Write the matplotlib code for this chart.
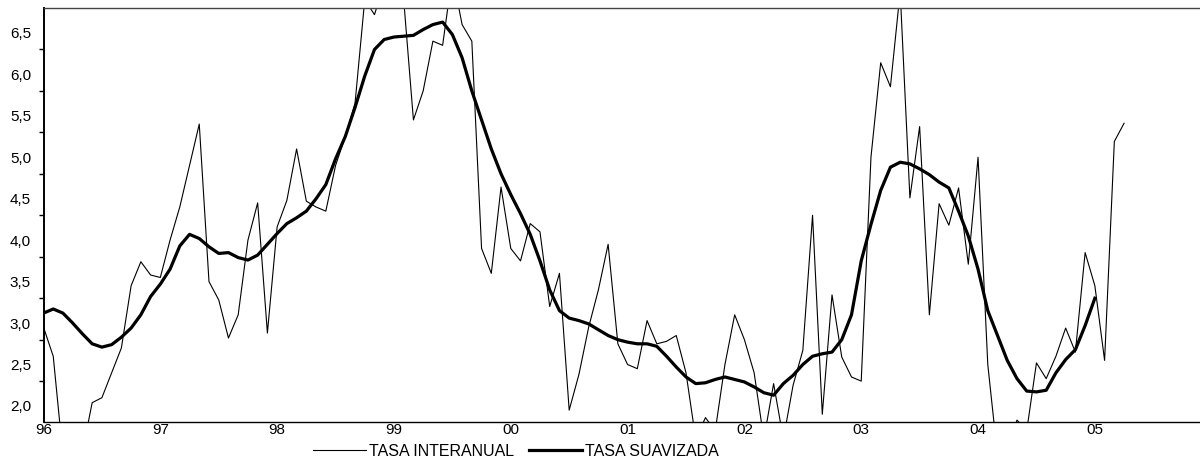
import numpy as np
import matplotlib
matplotlib.use('Agg')
import matplotlib.pyplot as plt
from matplotlib.ticker import FixedLocator, NullFormatter

plt.rcParams['font.family'] = ['Liberation Sans', 'DejaVu Sans']

# monthly series, Jan 1996 onwards
tasa_interanual = [
    2.95, 2.60, 1.40, 1.20, 1.45, 2.04, 2.10, 2.40, 2.70, 3.45, 3.74, 3.58,   # 96
    3.55, 4.00, 4.40, 4.90, 5.40, 3.50, 3.28, 2.82, 3.10, 4.00, 4.45, 2.88,   # 97
    4.16, 4.48, 5.10, 4.47, 4.40, 4.35, 4.90, 5.25, 5.65, 6.90, 6.72, 7.10,   # 98
    7.20, 6.90, 5.45, 5.80, 6.40, 6.35, 7.20, 6.60, 6.40, 3.90, 3.60, 4.64,   # 99
    3.90, 3.75, 4.20, 4.10, 3.20, 3.60, 1.95, 2.38, 2.95, 3.40, 3.95, 2.75,   # 00
    2.50, 2.45, 3.03, 2.75, 2.78, 2.85, 2.40, 1.60, 1.86, 1.70, 2.50, 3.10,   # 01
    2.80, 2.40, 1.60, 2.27, 1.60, 2.25, 2.67, 4.30, 1.90, 3.34, 2.59, 2.35,   # 02
    2.30, 5.00, 6.14, 5.85, 7.00, 4.51, 5.37, 3.10, 4.44, 4.18, 4.63, 3.71,   # 03
    5.00, 2.50, 1.40, 1.50, 1.83, 1.70, 2.52, 2.33, 2.60, 2.94, 2.65, 3.85,   # 04
    3.45, 2.55, 5.19, 5.41,                                                   # 05
]
tasa_suavizada = [
    3.12, 3.17, 3.12, 3.00, 2.87, 2.75, 2.71, 2.74, 2.83, 2.94, 3.10, 3.32,   # 96
    3.47, 3.65, 3.93, 4.07, 4.02, 3.92, 3.84, 3.85, 3.79, 3.76, 3.82, 3.95,   # 97
    4.08, 4.20, 4.27, 4.35, 4.50, 4.67, 4.98, 5.25, 5.60, 5.98, 6.30, 6.42,   # 98
    6.45, 6.46, 6.47, 6.54, 6.60, 6.63, 6.48, 6.20, 5.80, 5.45, 5.10, 4.80,   # 99
    4.55, 4.32, 4.07, 3.75, 3.40, 3.15, 3.06, 3.03, 2.99, 2.92, 2.85, 2.80,   # 00
    2.77, 2.75, 2.75, 2.72, 2.60, 2.47, 2.35, 2.27, 2.28, 2.32, 2.35, 2.32,   # 01
    2.29, 2.23, 2.16, 2.13, 2.27, 2.37, 2.50, 2.60, 2.63, 2.65, 2.80, 3.10,   # 02
    3.75, 4.19, 4.60, 4.88, 4.94, 4.92, 4.86, 4.79, 4.70, 4.63, 4.35, 4.05,   # 03
    3.65, 3.15, 2.85, 2.55, 2.33, 2.18, 2.17, 2.19, 2.40, 2.56, 2.68, 2.97,   # 04
    3.30,                                                                     # 05
]
year_labels = ['96', '97', '98', '99', '00', '01', '02', '03', '04', '05']
y_labels = ['2,0', '2,5', '3,0', '3,5', '4,0', '4,5', '5,0', '5,5', '6,0', '6,5']

t1 = 1996 + np.arange(len(tasa_interanual)) / 12
t2 = 1996 + np.arange(len(tasa_suavizada)) / 12

fig = plt.figure(figsize=(12, 4.66), dpi=100)
ax = fig.add_axes([43.5 / 1200, 44 / 466, 1 - 43.5 / 1200, 414 / 466])

ax.plot(t1, tasa_interanual, color='black', lw=0.8, label='TASA INTERANUAL')
ax.plot(t2, tasa_suavizada, color='black', lw=2.3, label='TASA SUAVIZADA')

ax.set_xlim(1996, 2005.9)
ax.set_ylim(1.807, 6.80)

# x axis: year labels, no marks
ax.set_xticks(1996 + np.arange(len(year_labels)))
ax.set_xticklabels(year_labels)
ax.tick_params(axis='x', length=0, pad=1, labelsize=11)

# y axis: labels without marks, marks offset between labels
ax.set_yticks(2.0 + 0.5 * np.arange(len(y_labels)))
ax.set_yticklabels(y_labels)
ax.tick_params(axis='y', which='major', length=0, pad=9, labelsize=11)
ax.yaxis.set_minor_locator(FixedLocator(2.3 + 0.5 * np.arange(9)))
ax.yaxis.set_minor_formatter(NullFormatter())
ax.tick_params(axis='y', which='minor', length=3.5, width=1, direction='out')

ax.spines['right'].set_visible(False)
ax.spines['left'].set_linewidth(1.4)
ax.spines['bottom'].set_linewidth(1.0)
ax.spines['top'].set_linewidth(1.0)
ax.spines['top'].set_color('#444444')

fig.legend(loc='center', bbox_to_anchor=(516 / 1200, 1 - 451 / 466), ncol=2,
           frameon=False, fontsize=11.5, handlelength=3.3, handletextpad=0.2,
           columnspacing=0.9, borderpad=0)

fig.savefig('out.png', dpi=100)
